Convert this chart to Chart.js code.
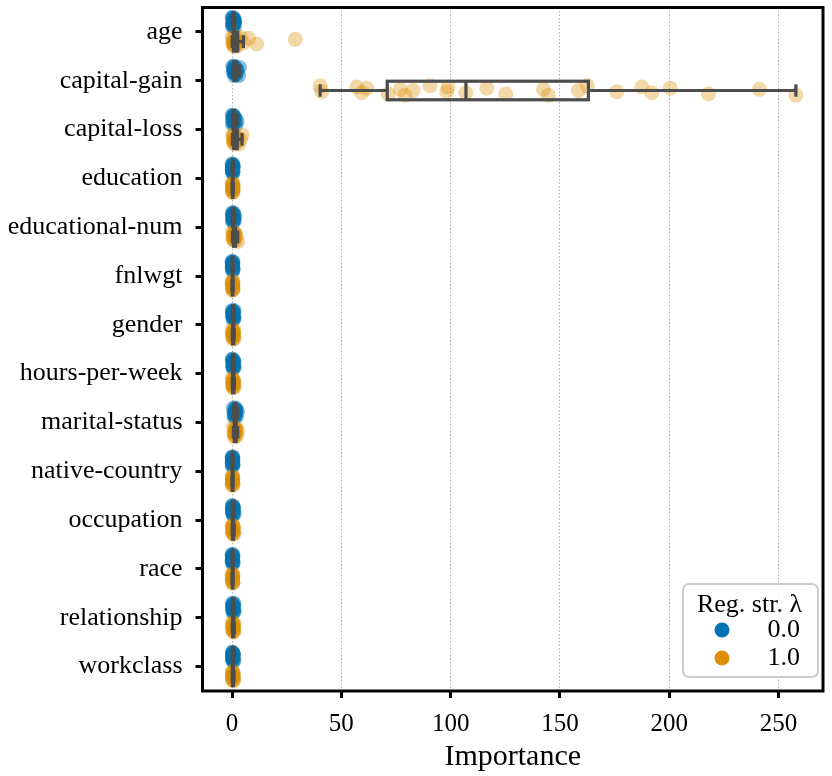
<!DOCTYPE html>
<html>
<head>
<meta charset="utf-8">
<script src="https://cdn.jsdelivr.net/npm/chart.js@4.4.1/dist/chart.umd.min.js"></script>
<style>
  html, body { margin: 0; padding: 0; background: #fff; }
</style>
</head>
<body>
<canvas id="chart" width="832" height="776"></canvas>
<script>
// Features on the y axis, top to bottom
const categories = ['age', 'capital-gain', 'capital-loss', 'education', 'educational-num', 'fnlwgt', 'gender',
    'hours-per-week', 'marital-status', 'native-country', 'occupation', 'race', 'relationship', 'workclass'];
const xTicks = [0, 50, 100, 150, 200, 250];

// Importance values per feature, reg. strength 0.0
const importance00 = [
    [0.1, 0.2, 0.4, 0.5, 0.7, 0.8, 1.0, 1.1, 1.3, 0.3, 0.6, 0.9, 0.5, 0.7, 0.2, 1.2, 0.4, 0.8],
    [0.3, 0.6, 0.9, 1.2, 1.5, 1.9, 2.4, 3.0, 0.8, 1.1, 2.0, 3.4, 1.4, 0.7, 1.7, 2.2, 1.0, 1.3],
    [0.1, 0.3, 0.5, 0.7, 0.9, 1.2, 1.5, 1.9, 0.4, 0.6, 2.3, 0.8, 1.0, 0.5, 0.7, 1.3, 0.2, 0.9],
    [0.0, 0.1, 0.2, 0.3, 0.4, 0.5, 0.6, 0.2, 0.3, 0.4, 0.1, 0.3, 0.2, 0.5, 0.4, 0.3],
    [0.1, 0.2, 0.4, 0.6, 0.8, 1.0, 1.3, 0.5, 0.3, 0.7, 0.6, 0.4, 0.9, 0.5, 0.2, 0.7],
    [0.0, 0.1, 0.2, 0.3, 0.4, 0.5, 0.2, 0.3, 0.1, 0.4, 0.3, 0.2, 0.4, 0.1, 0.3, 0.2],
    [0.1, 0.2, 0.4, 0.6, 0.8, 1.0, 0.3, 0.5, 0.7, 0.9, 0.4, 0.6, 0.5, 0.3, 0.7, 0.5],
    [0.1, 0.3, 0.5, 0.7, 0.9, 1.1, 0.4, 0.6, 0.8, 0.2, 0.5, 0.7, 0.4, 0.6, 0.3, 0.5],
    [0.6, 0.9, 1.2, 1.5, 1.8, 2.1, 2.5, 1.0, 1.4, 1.7, 1.3, 1.6, 1.1, 1.9, 1.5, 1.2],
    [0.0, 0.1, 0.2, 0.3, 0.4, 0.5, 0.2, 0.1, 0.3, 0.4, 0.2, 0.3, 0.1, 0.2, 0.4, 0.3],
    [0.1, 0.2, 0.4, 0.6, 0.8, 1.0, 0.3, 0.5, 0.7, 0.2, 0.4, 0.6, 0.3, 0.5, 0.4, 0.2],
    [0.0, 0.1, 0.2, 0.3, 0.4, 0.5, 0.2, 0.3, 0.1, 0.4, 0.2, 0.3, 0.1, 0.2, 0.4, 0.3],
    [0.1, 0.2, 0.4, 0.6, 0.8, 1.0, 0.3, 0.5, 0.7, 0.9, 0.4, 0.6, 0.5, 0.3, 0.7, 0.5],
    [0.1, 0.2, 0.3, 0.5, 0.7, 0.9, 0.4, 0.6, 0.2, 0.3, 0.5, 0.4, 0.3, 0.6, 0.2, 0.4]
];

// Importance values per feature, reg. strength 1.0
const importance10 = [
    [0.1, 0.3, 0.5, 0.8, 1.1, 1.4, 1.8, 2.3, 3.0, 3.8, 5.2, 7.6, 11.3, 28.9, 0.6, 1.2, 0.9, 1.6, 2.0, 0.4],
    [40.3, 41.0, 57.0, 59.3, 61.6, 71.4, 76.9, 79.1, 82.8, 90.6, 98.2, 98.8, 106.9, 116.5, 125.2,
     142.4, 144.7, 158.4, 162.5, 176.0, 187.4, 192.0, 200.4, 217.9, 241.2, 257.9],
    [0.2, 0.5, 0.8, 1.1, 1.5, 1.9, 2.4, 3.1, 3.9, 4.6, 1.3, 0.7, 1.0, 1.7, 0.6, 2.1, 1.4, 0.9],
    [0.0, 0.1, 0.2, 0.3, 0.4, 0.5, 0.6, 0.2, 0.3, 0.4, 0.1, 0.3, 0.2, 0.5, 0.4, 0.3],
    [0.2, 0.4, 0.7, 1.0, 1.3, 1.6, 2.0, 2.6, 0.9, 1.1, 0.8, 1.2, 0.6, 1.4, 1.0, 0.5],
    [0.0, 0.1, 0.2, 0.3, 0.4, 0.5, 0.2, 0.3, 0.1, 0.4, 0.3, 0.2, 0.4, 0.1, 0.3, 0.2],
    [0.1, 0.2, 0.4, 0.6, 0.8, 1.0, 0.3, 0.5, 0.7, 0.9, 0.4, 0.6, 0.5, 0.3, 0.7, 0.5],
    [0.1, 0.3, 0.5, 0.7, 0.9, 1.1, 0.4, 0.6, 0.8, 0.2, 0.5, 0.7, 0.4, 0.6, 0.3, 0.5],
    [0.6, 0.9, 1.2, 1.5, 1.8, 2.2, 2.6, 1.1, 1.4, 1.9, 1.3, 1.6, 1.0, 1.7, 1.5, 1.2],
    [0.0, 0.1, 0.2, 0.3, 0.4, 0.5, 0.2, 0.1, 0.3, 0.4, 0.2, 0.3, 0.1, 0.2, 0.4, 0.3],
    [0.1, 0.2, 0.4, 0.6, 0.8, 1.0, 0.3, 0.5, 0.7, 0.2, 0.4, 0.6, 0.3, 0.5, 0.4, 0.2],
    [0.0, 0.1, 0.2, 0.3, 0.4, 0.5, 0.2, 0.3, 0.1, 0.4, 0.2, 0.3, 0.1, 0.2, 0.4, 0.3],
    [0.1, 0.2, 0.4, 0.6, 0.8, 1.0, 0.3, 0.5, 0.7, 0.9, 0.4, 0.6, 0.5, 0.3, 0.7, 0.5],
    [0.1, 0.2, 0.3, 0.5, 0.7, 0.9, 0.4, 0.6, 0.2, 0.3, 0.5, 0.4, 0.3, 0.6, 0.2, 0.4]
];

// Box plot stats [whisker low, q1, median, q3, whisker high]
const box00 = [
    [0.1, 0.4, 0.7, 1.0, 1.3], [0.3, 0.9, 1.3, 2.0, 3.4], [0.1, 0.5, 0.8, 1.2, 2.3], [0.0, 0.2, 0.3, 0.4, 0.6],
    [0.1, 0.3, 0.55, 0.8, 1.3], [0.0, 0.15, 0.25, 0.4, 0.5], [0.1, 0.3, 0.55, 0.8, 1.0], [0.1, 0.3, 0.55, 0.8, 1.1],
    [0.6, 1.0, 1.45, 1.8, 2.5], [0.0, 0.1, 0.25, 0.4, 0.5], [0.1, 0.2, 0.45, 0.7, 1.0], [0.0, 0.15, 0.25, 0.4, 0.5],
    [0.1, 0.3, 0.55, 0.8, 1.0], [0.1, 0.2, 0.35, 0.6, 0.9]
];
const box10 = [
    [0.1, 0.7, 1.3, 2.6, 5.2], [40.3, 71.0, 107.0, 163.0, 257.9], [0.2, 0.8, 1.4, 2.4, 4.6], [0.0, 0.2, 0.3, 0.4, 0.6],
    [0.2, 0.7, 1.05, 1.6, 2.6], [0.0, 0.15, 0.25, 0.4, 0.5], [0.1, 0.3, 0.55, 0.8, 1.0], [0.1, 0.3, 0.55, 0.8, 1.1],
    [0.6, 1.1, 1.45, 1.9, 2.6], [0.0, 0.1, 0.25, 0.4, 0.5], [0.1, 0.2, 0.45, 0.7, 1.0], [0.0, 0.15, 0.25, 0.4, 0.5],
    [0.1, 0.3, 0.55, 0.8, 1.0], [0.1, 0.2, 0.35, 0.6, 0.9]
];

const BLUE = '#0173b2';
const ORANGE = '#de8f05';
const FONT = "'Liberation Serif', 'DejaVu Serif', serif";
const DODGE = 0.2;

// small fixed vertical spread so points don't sit on one line
function jitter(j) {
    return (((j * 5) % 9) - 4) / 4 * 0.095;
}

function toPoints(groups, offset) {
    const pts = [];
    groups.forEach((vals, i) => {
        vals.forEach((v, j) => pts.push({ x: v, y: i + offset + jitter(j) }));
    });
    return pts;
}

const boxPlugin = {
    id: 'boxes',
    afterDatasetsDraw(chart) {
        const { ctx, scales: { x, y } } = chart;
        ctx.save();
        ctx.strokeStyle = '#4d4d4d';
        ctx.lineWidth = 3.2;
        [[box00, -DODGE], [box10, DODGE]].forEach(([stats, off]) => {
            stats.forEach((s, i) => {
                const yc = y.getPixelForValue(i + off);
                const y0 = y.getPixelForValue(i + off - 0.19);
                const y1 = y.getPixelForValue(i + off + 0.19);
                const c0 = y.getPixelForValue(i + off - 0.13);
                const c1 = y.getPixelForValue(i + off + 0.13);
                const [lo, q1, med, q3, hi] = s.map(v => x.getPixelForValue(v));
                ctx.beginPath();
                ctx.moveTo(lo, yc); ctx.lineTo(q1, yc);
                ctx.moveTo(q3, yc); ctx.lineTo(hi, yc);
                ctx.moveTo(lo, c0); ctx.lineTo(lo, c1);
                ctx.moveTo(hi, c0); ctx.lineTo(hi, c1);
                ctx.moveTo(med, y0); ctx.lineTo(med, y1);
                ctx.stroke();
                ctx.strokeRect(q1, y0, q3 - q1, y1 - y0);
            });
        });
        ctx.restore();
    }
};

const framePlugin = {
    id: 'frame',
    afterDraw(chart) {
        const { ctx, chartArea: a } = chart;
        ctx.save();
        ctx.strokeStyle = '#000';
        ctx.lineWidth = 3;
        ctx.strokeRect(a.left, a.top, a.right - a.left, a.bottom - a.top);

        // legend box, lower right
        const w = 135, h = 93;
        const lx = a.right - 5 - w, ly = a.bottom - 14 - h;
        ctx.beginPath();
        ctx.roundRect(lx, ly, w, h, 6);
        ctx.fillStyle = 'rgba(255,255,255,0.85)';
        ctx.fill();
        ctx.strokeStyle = '#cccccc';
        ctx.lineWidth = 2;
        ctx.stroke();

        ctx.fillStyle = '#000';
        ctx.font = '26px ' + FONT;
        ctx.textAlign = 'center';
        ctx.textBaseline = 'middle';
        ctx.fillText('Reg. str. \u03bb', lx + w / 2 - 1, ly + 21);
        [['0.0', BLUE], ['1.0', ORANGE]].forEach(([label, col], k) => {
            const cy = ly + 46 + k * 28;
            ctx.beginPath();
            ctx.arc(lx + 39, cy, 7.5, 0, Math.PI * 2);
            ctx.fillStyle = col;
            ctx.fill();
            ctx.fillStyle = '#000';
            ctx.textAlign = 'right';
            ctx.fillText(label, lx + w - 18, cy);
        });
        ctx.restore();
    }
};

new Chart(document.getElementById('chart'), {
    type: 'scatter',
    data: {
        datasets: [
            {
                label: '0.0',
                data: toPoints(importance00, -DODGE),
                backgroundColor: 'rgba(1,115,178,0.45)',
                borderWidth: 0,
                pointRadius: 7.5,
                order: 2
            },
            {
                label: '1.0',
                data: toPoints(importance10, DODGE),
                backgroundColor: 'rgba(222,143,5,0.35)',
                borderWidth: 0,
                pointRadius: 7.5,
                order: 1
            }
        ]
    },
    options: {
        responsive: false,
        animation: false,
        events: [],
        layout: { padding: { top: 7, right: 9, left: 0, bottom: 0 } },
        plugins: {
            legend: { display: false },
            tooltip: { enabled: false }
        },
        scales: {
            x: {
                type: 'linear',
                min: -13.5,
                max: 270.3,
                afterBuildTicks: s => { s.ticks = xTicks.map(v => ({ value: v })); },
                afterFit: s => { s.height = 85; s.paddingLeft = 0; s.paddingRight = 0; },
                ticks: { color: '#000', font: { family: FONT, size: 25 }, padding: 11, maxRotation: 0 },
                grid: { color: '#b0b0b0', lineWidth: 1, tickColor: '#000', tickWidth: 3, tickLength: 7 },
                border: { display: false, dash: [1.5, 2] },
                title: { display: true, text: 'Importance', color: '#000', font: { family: FONT, size: 30 }, padding: { top: 0, bottom: 1 } }
            },
            y: {
                type: 'linear',
                reverse: true,
                min: -0.5,
                max: 13.5,
                afterBuildTicks: s => { s.ticks = categories.map((c, i) => ({ value: i })); },
                afterFit: s => { s.width = 202.5; s.paddingTop = 0; s.paddingBottom = 0; },
                ticks: { color: '#000', font: { family: FONT, size: 26 }, padding: 13, callback: v => categories[v] },
                grid: { drawOnChartArea: false, tickColor: '#000', tickWidth: 3, tickLength: 7 },
                border: { display: false }
            }
        }
    },
    plugins: [boxPlugin, framePlugin]
});
</script>
</body>
</html>
